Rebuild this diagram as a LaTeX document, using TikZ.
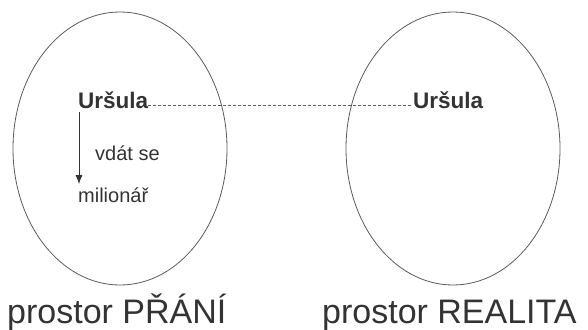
\documentclass[tikz,border=0pt]{standalone}
\usepackage{fontspec}
\setmainfont{Liberation Sans}
\usetikzlibrary{arrows.meta}
\usetikzlibrary{shapes.geometric}

\definecolor{textgray}{HTML}{333333}
\definecolor{linegray}{HTML}{5A5A5A}

\begin{document}
\begin{tikzpicture}[
    x=1pt, y=-1pt,
    arrowtip/.style={
      -{Latex[length=9pt,width=7pt]}
    },
    space/.style={
      draw=linegray, line width=0.8pt, ellipse, inner sep=0pt,
      minimum width=214pt, minimum height=273pt
    },
    label/.style={
      text=textgray, inner sep=0pt, anchor=base west
    }
  ]
    \useasboundingbox (0,0) rectangle (588,329);

    \coordinate (LL) at (120,148.5);
    \coordinate (RR) at (453,148.5);

    \node[space] (LSP) at (LL) {};
    \node[space] (RSP) at (RR) {};

    \node[label,font=\fontsize{22.5}{26}\selectfont\bfseries] (ULT) at ( 78,108) {Uršula};
    \node[label,font=\fontsize{22.5}{26}\selectfont\bfseries] (URT) at (413,108) {Uršula};

    \node[label,font=\fontsize{20}{24}\selectfont] (VDT) at ( 95,160) {vdát se};
    \node[label,font=\fontsize{20}{24}\selectfont] (MLT) at ( 78,202) {milionář};

    \node[label,font=\fontsize{34}{40}\selectfont] (LNM) at (  7,323) {prostor PŘÁNÍ};
    \node[label,font=\fontsize{34}{40}\selectfont] (RNM) at (322,323) {prostor REALITA};

    \draw[linegray, line width=0.6pt, dash pattern=on 3pt off 2pt]
      ([yshift=-6pt]ULT.east) -- ([yshift=-6pt]URT.west);

    \draw[textgray, line width=0.8pt, arrowtip, shorten <=4pt, shorten >=3pt]
      ([xshift=1pt]ULT.south west) -- ([xshift=1pt]MLT.north west);
  \end{tikzpicture}
\end{document}
